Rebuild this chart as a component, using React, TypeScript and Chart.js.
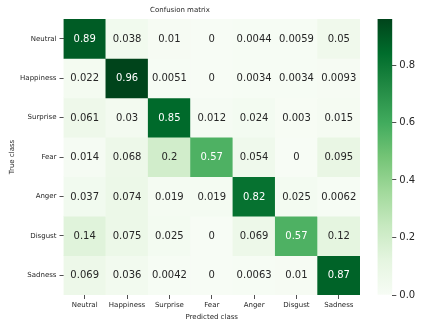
import React, { useEffect, useRef } from "react";
import { Chart, registerables } from "chart.js";

Chart.register(...registerables);

const TRUE_CLASSES = ["Neutral", "Happiness", "Surprise", "Fear", "Anger", "Disgust", "Sadness"];
const PRED_CLASSES = ["Neutral", "Happiness", "Surprise", "Fear", "Anger", "Disgust", "Sadness"];

const ROW_NEUTRAL = [0.89, 0.038, 0.01, 0, 0.0044, 0.0059, 0.05];
const ROW_HAPPINESS = [0.022, 0.96, 0.0051, 0, 0.0034, 0.0034, 0.0093];
const ROW_SURPRISE = [0.061, 0.03, 0.85, 0.012, 0.024, 0.003, 0.015];
const ROW_FEAR = [0.014, 0.068, 0.2, 0.57, 0.054, 0, 0.095];
const ROW_ANGER = [0.037, 0.074, 0.019, 0.019, 0.82, 0.025, 0.0062];
const ROW_DISGUST = [0.14, 0.075, 0.025, 0, 0.069, 0.57, 0.12];
const ROW_SADNESS = [0.069, 0.036, 0.0042, 0, 0.0063, 0.01, 0.87];
const MATRIX = [ROW_NEUTRAL, ROW_HAPPINESS, ROW_SURPRISE, ROW_FEAR, ROW_ANGER, ROW_DISGUST, ROW_SADNESS];

const COLORBAR_TICKS = [0, 0.2, 0.4, 0.6, 0.8];
const VMIN = 0;
const VMAX = 0.96;

const GREENS = [
  [247, 252, 245], [229, 245, 224], [199, 233, 192], [161, 217, 155],
  [116, 196, 118], [65, 171, 93], [35, 139, 69], [0, 109, 44], [0, 68, 27],
];

const FONT = '"DejaVu Sans", sans-serif';
const DARK = "#262626";

function greensRGB(t: number): number[] {
  const tt = Math.max(0, Math.min(1, t));
  const p = tt * 8;
  const i = Math.min(7, Math.floor(p));
  const f = p - i;
  const a = GREENS[i], b = GREENS[i + 1];
  return [0, 1, 2].map((k) => a[k] + (b[k] - a[k]) * f);
}
function rgbStr(c: number[]) {
  return `rgb(${Math.round(c[0])},${Math.round(c[1])},${Math.round(c[2])})`;
}
function colorFor(v: number) {
  return rgbStr(greensRGB((v - VMIN) / (VMAX - VMIN)));
}
function luminance(c: number[]) {
  const lin = c.map((x) => {
    const s = x / 255;
    return s <= 0.03928 ? s / 12.92 : Math.pow((s + 0.055) / 1.055, 2.4);
  });
  return 0.2126 * lin[0] + 0.7152 * lin[1] + 0.0722 * lin[2];
}
function textColorFor(v: number) {
  return luminance(greensRGB((v - VMIN) / (VMAX - VMIN))) > 0.408 ? DARK : "#ffffff";
}
function fmt(v: number) {
  return String(Number(v.toPrecision(2)));
}

const annotationPlugin = {
  id: "cellAnnotations",
  afterDatasetsDraw(chart: any) {
    const ctx = chart.ctx;
    ctx.save();
    ctx.font = `10px ${FONT}`;
    ctx.textAlign = "center";
    ctx.textBaseline = "middle";
    chart.data.datasets.forEach((_ds: any, r: number) => {
      const meta = chart.getDatasetMeta(r);
      meta.data.forEach((el: any, c: number) => {
        const { x, y } = el.getCenterPoint();
        const v = MATRIX[r][c];
        ctx.fillStyle = textColorFor(v);
        ctx.fillText(fmt(v), x, y + 0.5);
      });
    });
    ctx.restore();
  },
};

export default function App() {
  const mainRef = useRef<HTMLCanvasElement>(null);
  const cbRef = useRef<HTMLCanvasElement>(null);

  useEffect(() => {
    const n = TRUE_CLASSES.length;
    const main = new Chart(mainRef.current as HTMLCanvasElement, {
      type: "bar",
      data: {
        labels: PRED_CLASSES,
        datasets: TRUE_CLASSES.map((name, r) => ({
          label: name,
          data: PRED_CLASSES.map(() => [n - 1 - r, n - r]),
          backgroundColor: MATRIX[r].map((v) => colorFor(v)),
          borderWidth: 0,
          grouped: false,
          barPercentage: 1,
          categoryPercentage: 1,
        })) as any,
      },
      options: {
        responsive: false,
        animation: false,
        layout: { padding: { left: 0, right: 63, top: 0, bottom: 0 } },
        plugins: {
          legend: { display: false },
          tooltip: { enabled: false },
          title: {
            display: true,
            text: "Confusion matrix",
            color: DARK,
            font: { family: FONT, size: 7, weight: "normal" as any },
            padding: { top: 5.8, bottom: 4.8 },
          },
        },
        scales: {
          x: {
            type: "category",
            offset: true,
            grid: { display: true, drawOnChartArea: false, offset: false, tickLength: 4, color: DARK, tickWidth: 0.8 },
            border: { display: false },
            ticks: { font: { family: FONT, size: 7 }, color: DARK, padding: 2, maxRotation: 0, autoSkip: false },
            title: {
              display: true,
              text: "Predicted class",
              color: DARK,
              font: { family: FONT, size: 7 },
              padding: { top: 0, bottom: 7.1 },
            },
            afterFit: (s: any) => { s.height = 33; },
          },
          y: {
            type: "linear",
            min: 0,
            max: n,
            afterBuildTicks: (s: any) => {
              s.ticks = TRUE_CLASSES.map((_c, i) => ({ value: n - 0.5 - i }));
            },
            ticks: {
              font: { family: FONT, size: 7 },
              color: DARK,
              padding: 3,
              autoSkip: false,
              callback: (v: any) => TRUE_CLASSES[Math.round(n - 0.5 - Number(v))],
            },
            grid: { display: true, drawOnChartArea: false, tickLength: 4, color: DARK, tickWidth: 0.8 },
            border: { display: false },
            title: {
              display: true,
              text: "True class",
              color: DARK,
              font: { family: FONT, size: 7 },
              padding: { top: 7.5, bottom: 0 },
            },
            afterFit: (s: any) => { s.width = 63.5; },
          },
        },
      } as any,
      plugins: [annotationPlugin],
    });

    const cb = new Chart(cbRef.current as HTMLCanvasElement, {
      type: "bar",
      data: {
        labels: [""],
        datasets: [
          {
            data: [[VMIN, VMAX]] as any,
            borderWidth: 0,
            barPercentage: 1,
            categoryPercentage: 1,
            backgroundColor: (c: any) => {
              const area = c.chart.chartArea;
              if (!area) return colorFor(VMAX / 2);
              const g = c.chart.ctx.createLinearGradient(0, area.bottom, 0, area.top);
              GREENS.forEach((col, i) => g.addColorStop(i / (GREENS.length - 1), rgbStr(col)));
              return g;
            },
          },
        ],
      },
      options: {
        responsive: false,
        animation: false,
        layout: { padding: { left: 17.5, top: 19, bottom: 33, right: 0 } },
        plugins: { legend: { display: false }, tooltip: { enabled: false } },
        scales: {
          x: { display: false },
          y: {
            position: "right",
            min: VMIN,
            max: VMAX,
            afterBuildTicks: (s: any) => {
              s.ticks = COLORBAR_TICKS.map((v) => ({ value: v }));
            },
            ticks: {
              font: { family: FONT, size: 10 },
              color: DARK,
              padding: 3,
              callback: (v: any) => Number(v).toFixed(1),
            },
            grid: { display: true, drawOnChartArea: false, tickLength: 4, color: DARK, tickWidth: 0.8 },
            border: { display: false },
            afterFit: (s: any) => { s.width = 30.7; },
          },
        },
      } as any,
    });

    return () => {
      main.destroy();
      cb.destroy();
    };
  }, []);

  return (
    <div style={{ position: "absolute", left: 0, top: 0, width: 423, height: 328, background: "#fff" }}>
      <canvas ref={mainRef} width={423} height={328} style={{ position: "absolute", left: 0, top: 0, display: "block" }} />
      <canvas ref={cbRef} width={63} height={328} style={{ position: "absolute", left: 360, top: 0, display: "block" }} />
    </div>
  );
}
